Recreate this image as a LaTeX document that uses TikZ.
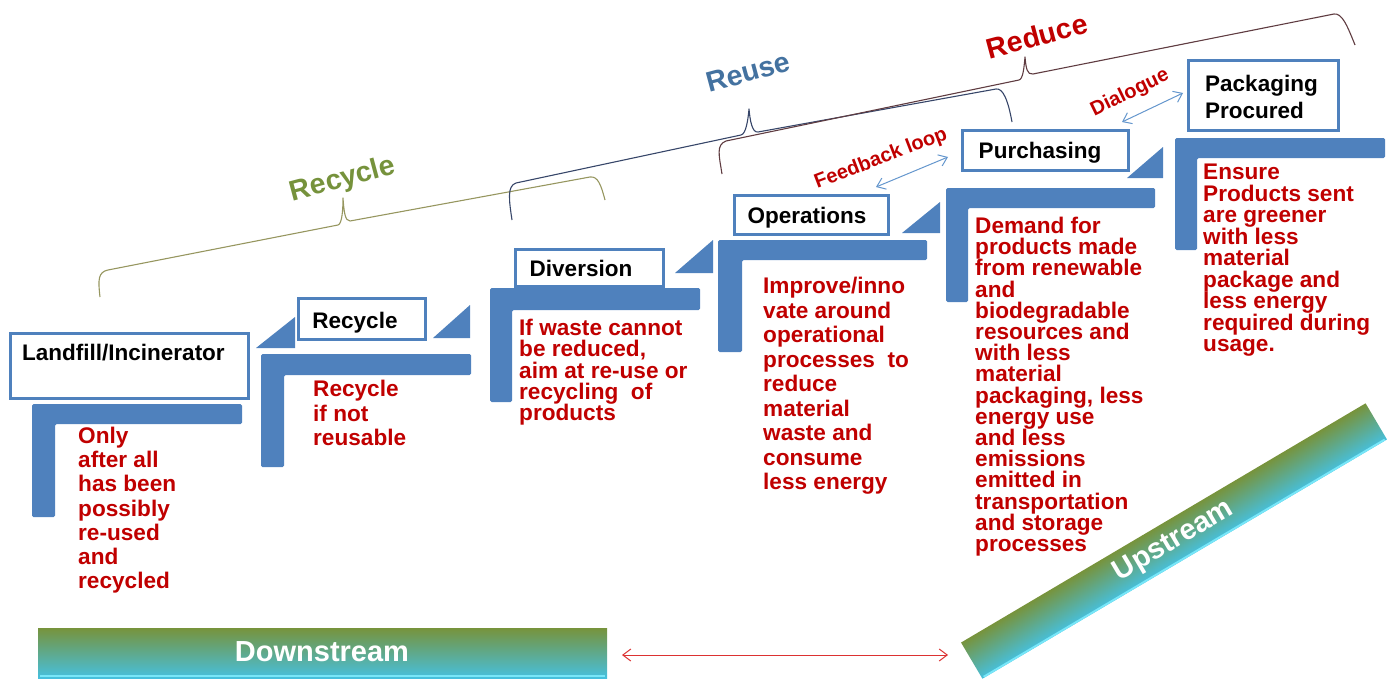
\documentclass[tikz,border=0pt]{standalone}
\usepackage{fontspec}
\setmainfont{Liberation Sans}
\usetikzlibrary{arrows.meta}
\definecolor{stepblue}{RGB}{79,129,189}
\definecolor{txtred}{RGB}{192,0,0}
\definecolor{recgreen}{RGB}{118,146,60}
\definecolor{reuseblue}{RGB}{68,114,160}
\definecolor{brRec}{RGB}{150,150,95}
\definecolor{brReu}{RGB}{55,70,105}
\definecolor{brRed}{RGB}{95,60,65}
\definecolor{arrblue}{RGB}{100,150,205}
\definecolor{arrred}{RGB}{220,50,50}
\definecolor{barGreen}{RGB}{119,147,60}
\definecolor{barCyan}{RGB}{70,192,222}
\definecolor{barEdge}{RGB}{120,230,248}
\begin{document}
\begin{tikzpicture}[x=1pt,y=-1pt,
  stepbox/.style={draw=stepblue,line width=3pt,fill=white,inner sep=0pt},
  boxlbl/.style={font=\fontsize{22.5}{27}\selectfont\bfseries,inner sep=0pt,text=black,align=left},
  body/.style={font=\fontsize{22.6}{#1}\selectfont\bfseries,text=txtred,inner sep=0pt,align=left,anchor=north west},
  bracelbl/.style={font=\fontsize{28.5}{30}\selectfont\bfseries,inner sep=0pt,rotate=15},
  brace/.style={line width=1.1pt,line join=round},
  smalllbl/.style={font=\fontsize{20}{22}\selectfont\bfseries,text=txtred,inner sep=0pt},
  dblarrow/.style={line width=1pt,{Straight Barb[length=8pt,width=12pt]}-{Straight Barb[length=8pt,width=12pt]}},
  barlbl/.style={font=\fontsize{29}{30}\selectfont\bfseries,text=white,inner sep=0pt},
  Lshape/.style={fill=stepblue,rounded corners=1.5pt},
  tri/.style={fill=stepblue}
]
\useasboundingbox (0,0) rectangle (1398,680);

% ---------- braces ----------
\draw[brace,brRec] (100,297) .. controls (98,280) and (98,272) .. (108,270) -- (338,225) .. controls (342,224) and (343,210) .. (343,198) .. controls (344,212) and (345,221) .. (350,221) -- (590,177) .. controls (598,176) and (601,185) .. (605,200);
\draw[brace,brReu] (512,220) .. controls (509,200) and (507,186) .. (516,183) -- (741,135) .. controls (746,134) and (748,120) .. (749,109) .. controls (750,120) and (752,133) .. (758,132) -- (996,89) .. controls (1003,88) and (1008,100) .. (1012,122);
\draw[brace,brRed] (722,174) .. controls (719,155) and (716,145) .. (726,141) -- (1019,80) .. controls (1023,79) and (1024,68) .. (1025,57) .. controls (1026,68) and (1027,75) .. (1033,74) -- (1334,14) .. controls (1342,13) and (1347,25) .. (1355,45);

\node[bracelbl,text=recgreen] (lrec) at (343,180) {Recycle};
\node[bracelbl,text=reuseblue] (lreu) at (748,72) {Reuse};
\node[bracelbl,text=txtred] (lred) at (1037,36) {Reduce};

% ---------- step 1 ----------
\node[stepbox,minimum width=238pt,minimum height=65pt] (b1) at (129,365.5) {};
\node[boxlbl,anchor=base west] (t1) at (22,360) {Landfill/Incinerator};
\fill[Lshape] (32,404) -- (242,404) -- (242,424) -- (55,424) -- (55,517) -- (32,517) -- cycle;
\node[body=24.2] (d1) at (78,427) {Only\\after all\\has been\\possibly\\re-used\\and\\recycled};
\fill[tri] (256,348) -- (295,317) -- (295,348) -- cycle;

% ---------- step 2 ----------
\node[stepbox,minimum width=127pt,minimum height=41pt] (b2) at (361.5,318.5) {};
\node[boxlbl,anchor=base] (t2) at (355,328) {Recycle};
\fill[Lshape] (261,354) -- (471,354) -- (471,375) -- (284,375) -- (284,467) -- (261,467) -- cycle;
\node[body=24.5] (d2) at (313,380) {Recycle\\if not\\reusable};
\fill[tri] (433,338) -- (470,305) -- (470,338) -- cycle;

% ---------- step 3 ----------
\node[stepbox,minimum width=148pt,minimum height=37pt] (b3) at (589,267.5) {};
\node[boxlbl,anchor=base] (t3) at (581,276) {Diversion};
\fill[Lshape] (490,288) -- (700,288) -- (700,310) -- (512,310) -- (512,402) -- (490,402) -- cycle;
\node[body=21.3] (d3) at (519,319) {If waste cannot\\be reduced,\\aim at re-use or\\recycling~ of\\products};
\fill[tri] (675,273) -- (713,240) -- (713,273) -- cycle;

% ---------- step 4 ----------
\node[stepbox,minimum width=154pt,minimum height=39pt] (b4) at (811,214.5) {};
\node[boxlbl,anchor=base] (t4) at (807,223) {Operations};
\fill[Lshape] (718,240) -- (927,240) -- (927,260) -- (742,260) -- (742,352) -- (718,352) -- cycle;
\node[body=24.5] (d4) at (763,277) {Improve/inno\\vate around\\operational\\processes~ to\\reduce\\material\\waste and\\consume\\less energy};
\fill[tri] (902,233) -- (940,202) -- (940,233) -- cycle;

% ---------- step 5 ----------
\node[stepbox,minimum width=166pt,minimum height=40pt] (b5) at (1045,150) {};
\node[boxlbl,anchor=base] (t5) at (1040,158) {Purchasing};
\fill[Lshape] (946,188) -- (1155,188) -- (1155,208) -- (968,208) -- (968,302) -- (946,302) -- cycle;
\node[body=21.2] (d5) at (975,217) {Demand for\\products made\\from renewable\\and\\biodegradable\\resources and\\with less\\material\\packaging, less\\energy use\\and less\\emissions\\emitted in\\transportation\\and storage\\processes};
\fill[tri] (1127,178) -- (1163,147) -- (1163,178) -- cycle;

% ---------- step 6 ----------
\node[stepbox,minimum width=150pt,minimum height=70pt] (b6) at (1263,95) {};
\node[boxlbl,anchor=north west] (t6) at (1205,75) {Packaging\\Procured};
\fill[Lshape] (1175,138) -- (1385,138) -- (1385,158) -- (1197,158) -- (1197,250) -- (1175,250) -- cycle;
\node[body=21.5] (d6) at (1203,164) {Ensure\\Products sent\\are greener\\with less\\material\\package and\\less energy\\required during\\usage.};

% ---------- feedback / dialogue ----------
\coordinate (fbA) at (876,187);
\coordinate (fbB) at (948,157);
\draw[dblarrow,arrblue] (fbA) -- (fbB);
\node[smalllbl,rotate=21] (fbl) at (881,159) {Feedback loop};
\coordinate (dlA) at (1122,122);
\coordinate (dlB) at (1183,93);
\draw[dblarrow,arrblue] (dlA) -- (dlB);
\node[smalllbl,rotate=26] (dll) at (1130,93) {Dialogue};

% ---------- downstream / upstream ----------
\node[top color=barGreen,bottom color=barCyan,minimum width=569pt,minimum height=50pt,inner sep=0pt] (down) at (322.5,653) {};
\draw[barEdge,line width=2pt] (40,676) -- (605,676);
\node[barlbl] (downl) at (322,652) {Downstream};
\begin{scope}[transform canvas={shift={(1174,541)},rotate=30.6}]
  \shade[top color=barGreen,bottom color=barCyan] (-235,-21) rectangle (235,21);
  \draw[barEdge,line width=2pt] (-233,20) -- (233,20);
  \node[barlbl] (upl) at (0,0) {Upstream};
\end{scope}
\coordinate (arL) at (622,655);
\coordinate (arR) at (948,655);
\draw[dblarrow,arrred] (arL) -- (arR);
\end{tikzpicture}
\end{document}
